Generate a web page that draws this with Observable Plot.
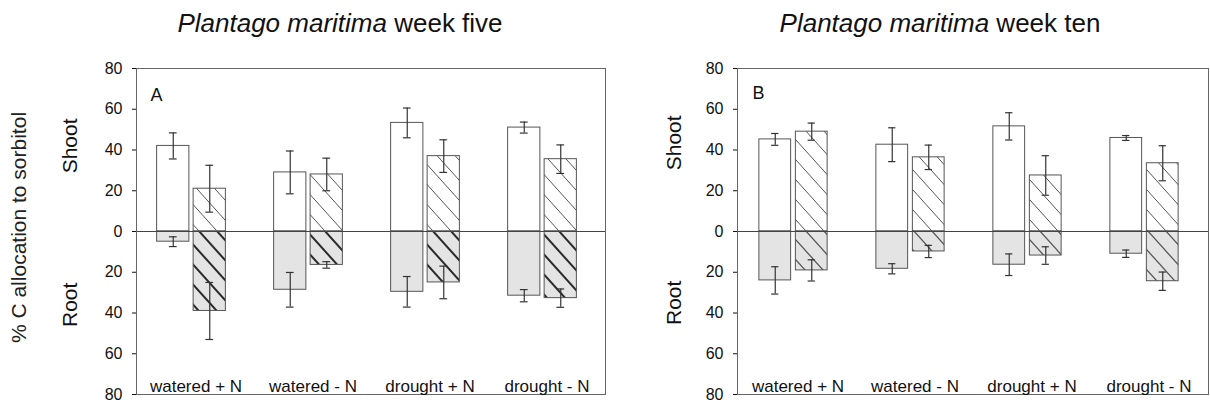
<!DOCTYPE html>
<html>
<head>
<meta charset="utf-8">
<script src="https://cdn.jsdelivr.net/npm/d3@7"></script>
<script src="https://cdn.jsdelivr.net/npm/@observablehq/plot@0.6"></script>
<style>
  html, body { margin: 0; padding: 0; background: #fff; }
  #chart { display: flex; width: 1210px; height: 405px; font-family: "Liberation Sans", Arial, Helvetica, sans-serif; color: #111; }
  .panel { flex: none; }
  .title { box-sizing: border-box; height: 50px; padding-top: 10px; font-size: 26px; line-height: 26px; text-align: center; white-space: nowrap; color: #111; }
  .panel svg { display: block; }
</style>
</head>
<body>
<div id="chart">
  <div class="panel" id="panelA" style="width:607px"><div class="title" style="padding-left:73px"><i>Plantago maritima</i> week five</div></div>
  <div class="panel" id="panelB" style="width:603px"><div class="title" style="padding-left:63px"><i>Plantago maritima</i> week ten</div></div>
</div>
<script>
// ---------- data ----------
const categories = ["watered + N", "watered - N", "drought + N", "drought - N"];
const yTicks = [-80, -60, -40, -20, 0, 20, 40, 60, 80];
const yLabel = "% C allocation to sorbitol";
const partLabels = ["Shoot", "Root"];
const panelLetters = ["A", "B"];

// Week five (A): shoot (above zero) and root (below zero), open and hatched bars, with error bars
const a_shootOpen = [42, 29, 53.3, 51];
const a_shootOpenErr = [6.4, 10.5, 7.3, 2.7];
const a_shootHatched = [21, 28, 37, 35.5];
const a_shootHatchedErr = [11.5, 8, 8, 7];
const a_rootOpen = [5, 28.6, 29.6, 31.5];
const a_rootOpenErr = [2.4, 8.5, 7.5, 3];
const a_rootHatched = [39, 16.4, 25, 32.7];
const a_rootHatchedErr = [14, 1.6, 8, 4.5];

// Week ten (B)
const b_shootOpen = [45.2, 42.6, 51.6, 45.9];
const b_shootOpenErr = [2.9, 8.3, 6.7, 1.2];
const b_shootHatched = [49, 36.4, 27.5, 33.5];
const b_shootHatchedErr = [4.2, 6, 9.7, 8.6];
const b_rootOpen = [24, 18.3, 16.3, 10.9];
const b_rootOpenErr = [6.7, 2.5, 5.3, 1.8];
const b_rootHatched = [19.1, 9.8, 11.8, 24.4];
const b_rootHatchedErr = [5.2, 3, 4.3, 4.5];

// ---------- drawing ----------
const FONT = '"Liberation Sans", Arial, Helvetica, sans-serif';
const GRAY = "#e4e4e4";
const EDGE = "#555";

function rows(values, errs, sign) {
  return categories.map((c, i) => ({
    cat: c,
    v: sign * values[i],
    lo: sign * (values[i] - errs[i]),
    hi: sign * (values[i] + errs[i])
  }));
}

function addDefs(svg, id, rootStroke, rootWidth) {
  const ns = "http://www.w3.org/2000/svg";
  const defs = document.createElementNS(ns, "defs");
  const pw = 18, ph = 20;
  const lines = (stroke, w) =>
    `<path d="M-1.8,-2L${pw + 1.8},${ph + 2}M-1.8,${ph - 2}L1.8,${ph + 2}M${pw - 1.8},-2L${pw + 1.8},2" stroke="${stroke}" stroke-width="${w}" fill="none"/>`;
  defs.innerHTML =
    `<pattern id="${id}-hs" patternUnits="userSpaceOnUse" width="${pw}" height="${ph}">` +
    `<rect width="${pw}" height="${ph}" fill="white"/>${lines("#555", 1)}</pattern>` +
    `<pattern id="${id}-hr" patternUnits="userSpaceOnUse" width="${pw}" height="${ph}">` +
    `<rect width="${pw}" height="${ph}" fill="${GRAY}"/>${lines(rootStroke, rootWidth)}</pattern>`;
  svg.insertBefore(defs, svg.firstChild);
}

function panel(cfg) {
  const W = cfg.width, ML = cfg.marginLeft, MR = cfg.marginRight;
  const step = (W - ML - MR) / categories.length;
  const half = step / 2;
  const shift = -4.5, gap = 4, bw = 32.5, cap = 4;
  const openInset = {insetLeft: half + shift - gap / 2 - bw, insetRight: half - shift + gap / 2};
  const hatchInset = {insetLeft: half + shift + gap / 2, insetRight: half - shift - gap / 2 - bw};
  const openC = shift - gap / 2 - bw / 2;
  const hatchC = shift + gap / 2 + bw / 2;
  const capInset = (c) => ({insetLeft: half + c - cap, insetRight: half - c - cap});

  const so = rows(cfg.shootOpen, cfg.shootOpenErr, 1);
  const sh = rows(cfg.shootHatched, cfg.shootHatchedErr, 1);
  const ro = rows(cfg.rootOpen, cfg.rootOpenErr, -1);
  const rh = rows(cfg.rootHatched, cfg.rootHatchedErr, -1);

  const errMarks = [];
  for (const [d, c] of [[so, openC], [sh, hatchC], [ro, openC], [rh, hatchC]]) {
    errMarks.push(Plot.ruleX(d, {x: "cat", y1: "lo", y2: "hi", dx: c, stroke: "#333", strokeWidth: 1.2}));
    errMarks.push(Plot.tickY(d, {x: "cat", y: "lo", stroke: "#333", strokeWidth: 1.2, ...capInset(c)}));
    errMarks.push(Plot.tickY(d, {x: "cat", y: "hi", stroke: "#333", strokeWidth: 1.2, ...capInset(c)}));
  }

  const sideText = {frameAnchor: "left", rotate: -90, textAnchor: "middle", lineAnchor: "middle", fill: "#111"};
  const marks = [
    Plot.barY(so, {x: "cat", y: "v", fill: "white", stroke: EDGE, strokeWidth: 1, ...openInset}),
    Plot.barY(sh, {x: "cat", y: "v", fill: `url(#${cfg.id}-hs)`, stroke: EDGE, strokeWidth: 1, ...hatchInset}),
    Plot.barY(ro, {x: "cat", y: "v", fill: GRAY, stroke: EDGE, strokeWidth: 1, ...openInset}),
    Plot.barY(rh, {x: "cat", y: "v", fill: `url(#${cfg.id}-hr)`, stroke: EDGE, strokeWidth: 1, ...hatchInset}),
    Plot.ruleY([0], {stroke: "#444", strokeWidth: 1}),
    ...errMarks,
    Plot.frame({stroke: "#666", strokeWidth: 1}),
    Plot.text(categories, {x: (d) => d, frameAnchor: "bottom", lineAnchor: "bottom", dy: -3, fontSize: 17, fill: "#111"}),
    Plot.text([cfg.letter], {frameAnchor: "top-left", textAnchor: "start", lineAnchor: "bottom", dx: cfg.letterDx, dy: cfg.letterDy, fontSize: 18, fill: "#111"}),
    Plot.text([partLabels[0]], {...sideText, y: [cfg.shootY], dx: cfg.partDx, fontSize: 21}),
    Plot.text([partLabels[1]], {...sideText, y: [cfg.rootY], dx: cfg.partDx, fontSize: 21})
  ];
  if (cfg.showYLabel) {
    marks.push(Plot.text([yLabel], {...sideText, y: [0], dx: cfg.yLabelDx, dy: -4, fontSize: 21, fill: "#222"}));
  }

  const svg = Plot.plot({
    width: W,
    height: 355,
    marginTop: 18,
    marginBottom: 11,
    marginLeft: ML,
    marginRight: MR,
    style: {fontFamily: FONT, fontSize: "16px", color: "#111", background: "white", overflow: "visible"},
    x: {type: "band", domain: categories, padding: 0, axis: null},
    y: {domain: [-80, 80], ticks: yTicks, tickFormat: (d) => Math.abs(d), tickSize: 4, tickPadding: 10, label: null},
    marks
  });
  addDefs(svg, cfg.id, cfg.rootStroke, cfg.rootWidth);
  return svg;
}

document.getElementById("panelA").appendChild(panel({
  id: "pa", width: 607, marginLeft: 136, marginRight: 2, letter: panelLetters[0],
  letterDx: 14, letterDy: 32, partDx: -66, shootY: 42, rootY: -36, showYLabel: true, yLabelDx: -117,
  rootStroke: "#2a2a2a", rootWidth: 2,
  shootOpen: a_shootOpen, shootOpenErr: a_shootOpenErr, shootHatched: a_shootHatched, shootHatchedErr: a_shootHatchedErr,
  rootOpen: a_rootOpen, rootOpenErr: a_rootOpenErr, rootHatched: a_rootHatched, rootHatchedErr: a_rootHatchedErr
}));
document.getElementById("panelB").appendChild(panel({
  id: "pb", width: 603, marginLeft: 130, marginRight: 2, letter: panelLetters[1],
  letterDx: 15, letterDy: 30, partDx: -63, shootY: 43.5, rootY: -35, showYLabel: false, yLabelDx: 0,
  rootStroke: "#555", rootWidth: 1.2,
  shootOpen: b_shootOpen, shootOpenErr: b_shootOpenErr, shootHatched: b_shootHatched, shootHatchedErr: b_shootHatchedErr,
  rootOpen: b_rootOpen, rootOpenErr: b_rootOpenErr, rootHatched: b_rootHatched, rootHatchedErr: b_rootHatchedErr
}));
</script>
</body>
</html>
